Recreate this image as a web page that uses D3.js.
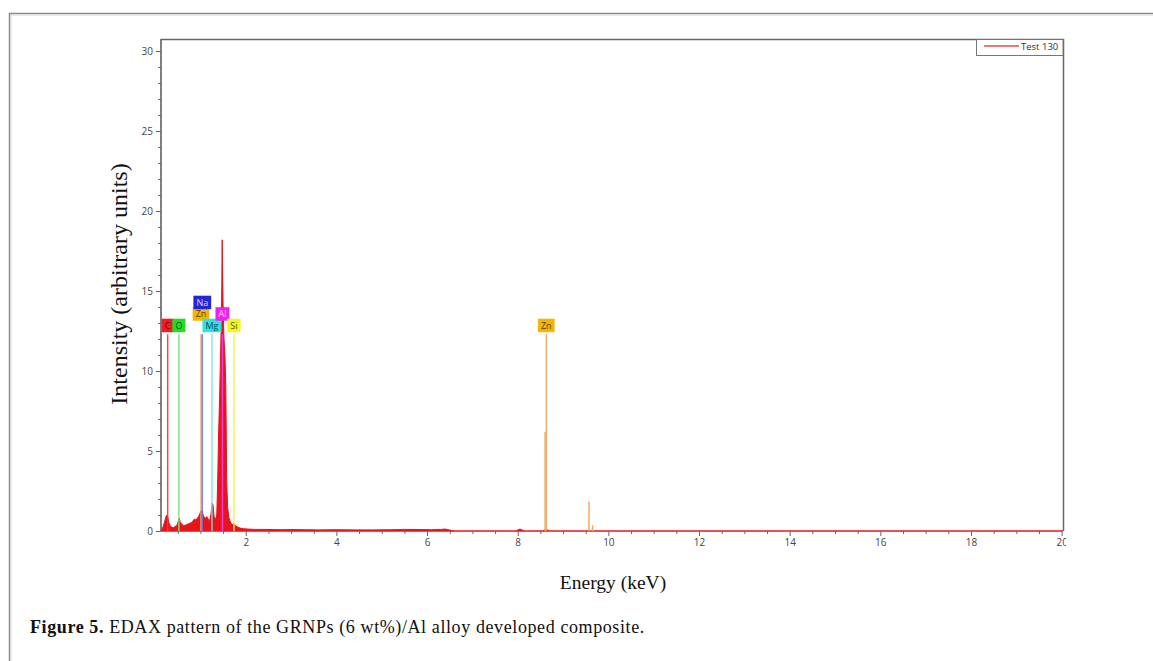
<!DOCTYPE html>
<html><head><meta charset="utf-8">
<script src="https://cdn.jsdelivr.net/npm/d3@7"></script>
<style>body{margin:0;background:#fff;} svg{display:block}</style>
</head><body><svg id="c" width="1153" height="661"></svg>
<script>
// ---- data ----
const energy = [0.13,0.15,0.18,0.21,0.24,0.26,0.28,0.30,0.33,0.36,0.40,0.44,0.48,0.51,0.53,0.55,0.58,0.62,0.66,0.70,0.74,0.78,0.82,0.85,0.88,0.90,0.93,0.96,0.99,1.01,1.03,1.05,1.08,1.11,1.14,1.17,1.20,1.23,1.26,1.28,1.30,1.33,1.36,1.38,1.40,1.42,1.44,1.46,1.47,1.48,1.49,1.50,1.52,1.54,1.56,1.57,1.58,1.60,1.63,1.67,1.70,1.74,1.78,1.82,1.88,1.95,2.05,2.2,2.4,2.6,2.8,3.0,3.3,3.6,4.0,4.4,4.8,5.2,5.5,5.8,6.1,6.3,6.4,6.5,6.6,7.95,8.05,8.15,8.55,8.62,8.7,20.03];
const counts = [0,0.1,0.3,0.6,0.9,1.0,0.85,0.55,0.35,0.25,0.2,0.28,0.35,0.6,0.8,0.6,0.45,0.35,0.35,0.4,0.45,0.5,0.55,0.7,0.75,0.65,0.8,0.9,1.1,1.25,1.3,1.1,0.85,0.8,0.9,0.75,0.6,1.0,1.75,1.6,0.9,0.7,1.0,3,6,8,10.5,13,15,18.2,16,14,12,11,9,6,3,1.5,0.8,0.5,0.4,0.45,0.3,0.25,0.18,0.14,0.12,0.1,0.1,0.09,0.08,0.09,0.08,0.07,0.08,0.07,0.07,0.08,0.1,0.09,0.08,0.1,0.12,0.06,0,0,0.12,0,0,0.12,0,0];
const markerNames = ["C","O","Zn","Na","Mg","Al","Si","Zn"];
const markerEnergy = [0.277,0.525,1.012,1.041,1.254,1.486,1.740,8.630];
const markerIntensity = [12.3,12.3,12.3,12.3,12.3,12.3,12.3,12.3];
const znLineEnergy = [8.605,9.572,9.652];
const znLineIntensity = [6.2,1.85,0.35];
const xTicks = [2,4,6,8,10,12,14,16,18,20];
const yTicks = [0,5,10,15,20,25,30];
const legendLabel = "Test 130";
const xTitle = "Energy (keV)";
const yTitle = "Intensity (arbitrary units)";

// ---- styles / layout ----
const markerStyle = {
  "C":  {box:"#ee1c24", text:"#7a0000", line:"#ff3030"},
  "O":  {box:"#22dd22", text:"#005500", line:"#77e877"},
  "Zn": {box:"#f2b600", text:"#5a3a00", line:"#f5a860"},
  "Na": {box:"#2424d8", text:"#d8d8ff", line:"#7070e0"},
  "Mg": {box:"#33e0e0", text:"#004a6a", line:"#77e8e8"},
  "Al": {box:"#ee22ee", text:"#ffd0ff", line:"#ee44ee"},
  "Si": {box:"#f5f522", text:"#5a5a00", line:"#f0f040"}
};
const labelRow = [0,0,1,2,0,1,0,0];

const svg = d3.select("#c");
const W = 1153, H = 661;
const L = 161, R = 1063, T = 39, B = 531;

svg.append("rect").attr("width",W).attr("height",H).attr("fill","#fff");

// outer figure frame
svg.append("path").attr("d",`M9.5,${H} V13.5 H${W}`).attr("fill","none").attr("stroke","#8a8a8a").attr("stroke-width",1.5);
svg.append("path").attr("d",`M11,${H} V15 H${W}`).attr("fill","none").attr("stroke","#d8d8d8").attr("stroke-width",1);

const x = d3.scaleLinear().domain([0.13,20.03]).range([L,R]);
const y = d3.scaleLinear().domain([0,30.75]).range([B,T]);

svg.append("defs").append("clipPath").attr("id","pc")
  .append("rect").attr("x",L).attr("y",T).attr("width",R-L).attr("height",B-T);
svg.select("defs").append("clipPath").attr("id","xc")
  .append("rect").attr("x",0).attr("y",0).attr("width",R+3).attr("height",H);

const g = svg.append("g").attr("clip-path","url(#pc)");

// spectrum
const pts = energy.map((e,i)=>[e,counts[i]]);
g.append("path").datum(pts)
  .attr("d", d3.area().x(d=>x(d[0])).y0(y(0)).y1(d=>y(d[1])))
  .attr("fill","#e8141c").attr("stroke","#e8141c").attr("stroke-width",1);

// Zn K secondary lines
g.selectAll(".znl").data(znLineEnergy).enter().append("line")
  .attr("x1",d=>x(d)).attr("x2",d=>x(d))
  .attr("y1",y(0)).attr("y2",(d,i)=>y(znLineIntensity[i]))
  .attr("stroke","#f5a860").attr("stroke-width",1.5);

// marker lines
g.selectAll(".mk").data(markerNames).enter().append("line")
  .attr("x1",(d,i)=>x(markerEnergy[i])).attr("x2",(d,i)=>x(markerEnergy[i]))
  .attr("y1",y(0)).attr("y2",(d,i)=>y(markerIntensity[i]))
  .attr("stroke",d=>markerStyle[d].line).attr("stroke-width",1.5).attr("opacity",0.9);

// marker labels
const lab = svg.append("g");
markerNames.forEach((n,i)=>{
  const cx = x(markerEnergy[i]);
  const bottom = y(markerIntensity[i]) - 2 - labelRow[i]*11.5;
  const t = lab.append("text").text(n)
    .attr("font-family","Open Sans, sans-serif").attr("font-size",9)
    .attr("fill",markerStyle[n].text).attr("text-anchor","middle")
    .attr("x",cx).attr("y",bottom-3.5);
  const w = t.node().getComputedTextLength() + 6;
  lab.insert("rect","text").attr("x",cx-w/2).attr("y",bottom-13.5).attr("width",w).attr("height",13.5)
    .attr("fill",markerStyle[n].box);
});
lab.selectAll("text").raise();

// axes
const tickFont = "Open Sans, sans-serif";
const xMinor = d3.range(0.5,20.01,0.5).filter(v=>v%2!==0);
const yMinor = d3.range(1,30.01,1).filter(v=>v%5!==0);

const gx = svg.append("g").attr("transform",`translate(0,${B})`).attr("clip-path","url(#xc)");
gx.call(d3.axisBottom(x).tickValues(xTicks).tickSize(5).tickPadding(3).tickFormat(d3.format("d")));
const gxm = svg.append("g").attr("transform",`translate(0,${B})`);
gxm.call(d3.axisBottom(x).tickValues(xMinor).tickSize(3).tickFormat(""));
gxm.select(".domain").remove();

const gy = svg.append("g").attr("transform",`translate(${L},0)`);
gy.call(d3.axisLeft(y).tickValues(yTicks).tickSize(5).tickPadding(3).tickFormat(d3.format("d")));
const gym = svg.append("g").attr("transform",`translate(${L},0)`);
gym.call(d3.axisLeft(y).tickValues(yMinor).tickSize(3).tickFormat(""));
gym.select(".domain").remove();

[gx,gxm,gy,gym].forEach(a=>{
  a.selectAll(".domain").attr("stroke","#555").attr("stroke-width",1.5);
  a.selectAll(".tick line").attr("stroke","#666").attr("stroke-width",1);
  a.selectAll(".tick text").attr("font-family",tickFont).attr("font-size",10).attr("fill","#444");
});
gy.select(".domain").attr("d",`M0,${B}V${T}`);
gx.select(".domain").attr("d",`M${L},0H${R}`);

// plot frame top/right
svg.append("path").attr("d",`M${L},${T+0.5}H${R+0.5}V${B}`).attr("fill","none").attr("stroke","#666").attr("stroke-width",1.5);

// legend
const lg = svg.append("g");
lg.append("rect").attr("x",976.5).attr("y",T+0.5).attr("width",R-976.5).attr("height",16).attr("fill","#fff").attr("stroke","#777").attr("stroke-width",1);
lg.append("line").attr("x1",984).attr("x2",1019).attr("y1",46).attr("y2",46).attr("stroke","#e84a4a").attr("stroke-width",1.5);
lg.append("text").text(legendLabel).attr("x",1021).attr("y",49.5).attr("font-family",tickFont).attr("font-size",9.5).attr("fill","#333");

// titles
svg.append("text").text(xTitle).attr("x",613).attr("y",589).attr("text-anchor","middle")
  .attr("font-family","Liberation Serif, serif").attr("font-size",19.5).attr("fill","#111");
svg.append("text").text(yTitle).attr("transform","translate(127,284) rotate(-90)").attr("text-anchor","middle")
  .attr("font-family","Liberation Serif, serif").attr("font-size",24).attr("fill","#111");

// caption
const cap = svg.append("text").attr("x",30).attr("y",633).attr("font-family","Liberation Serif, serif").attr("font-size",18).attr("letter-spacing",0.6).attr("fill","#111");
cap.append("tspan").attr("font-weight","bold").text("Figure 5.");
cap.append("tspan").text(" EDAX pattern of the GRNPs (6 wt%)/Al alloy developed composite.");
</script></body></html>
